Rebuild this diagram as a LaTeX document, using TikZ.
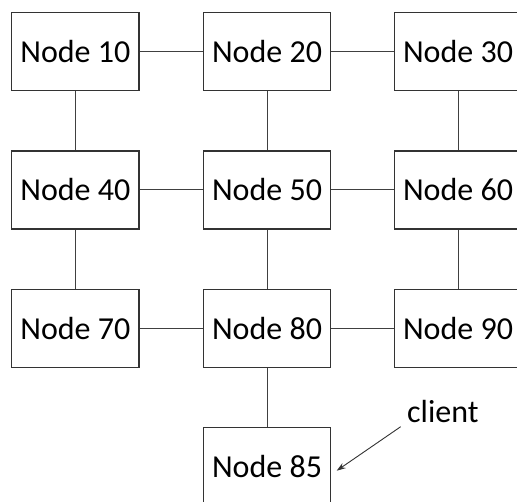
\documentclass[tikz,border=0pt]{standalone}
\usepackage{fontspec}
\setmainfont{Carlito}
\usetikzlibrary{arrows.meta}
\tikzset{
  nodebox/.style={draw=black!80, line width=1.2pt, fill=white,
    minimum width=127.5pt, minimum height=78pt, inner sep=0pt,
    font=\fontsize{32}{38}\selectfont},
  link/.style={draw=black!75, line width=1pt},
  pointer/.style={draw=black!80, line width=0.9pt, -{Stealth[length=9pt,width=6pt]}},
  tag/.style={inner sep=0pt, font=\fontsize{32}{38}\selectfont}
}
\begin{document}
\begin{tikzpicture}[x=1pt, y=-1pt]
  \useasboundingbox (0,0) rectangle (517,502);
  \clip (0,0) rectangle (517,502);
  % grid of nodes
  \node[nodebox] (n10) at (75.3,51.5)  {Node 10};
  \node[nodebox] (n20) at (267,51.5)   {Node 20};
  \node[nodebox] (n30) at (458,51.5)   {Node 30};
  \node[nodebox] (n40) at (75.3,190)   {Node 40};
  \node[nodebox] (n50) at (267,190)    {Node 50};
  \node[nodebox] (n60) at (458,190)    {Node 60};
  \node[nodebox] (n70) at (75.3,328.5) {Node 70};
  \node[nodebox] (n80) at (267,328.5)  {Node 80};
  \node[nodebox] (n90) at (458,328.5)  {Node 90};
  \node[nodebox] (n85) at (267,466.7)  {Node 85};
  % horizontal links
  \draw[link] (n10) -- (n20);
  \draw[link] (n20) -- (n30);
  \draw[link] (n40) -- (n50);
  \draw[link] (n50) -- (n60);
  \draw[link] (n70) -- (n80);
  \draw[link] (n80) -- (n90);
  % vertical links
  \draw[link] (n10) -- (n40);
  \draw[link] (n40) -- (n70);
  \draw[link] (n20) -- (n50);
  \draw[link] (n50) -- (n80);
  \draw[link] (n30) -- (n60);
  \draw[link] (n60) -- (n90);
  \draw[link] (n80) -- (n85);
  % client label and its pointer
  \node[tag, anchor=base west] (client) at (407,423) {client};
  \coordinate (from) at (400.7,426.7);
  \coordinate (to) at (336.7,470.7);
  \draw[pointer] (from) -- (to);
\end{tikzpicture}
\end{document}
